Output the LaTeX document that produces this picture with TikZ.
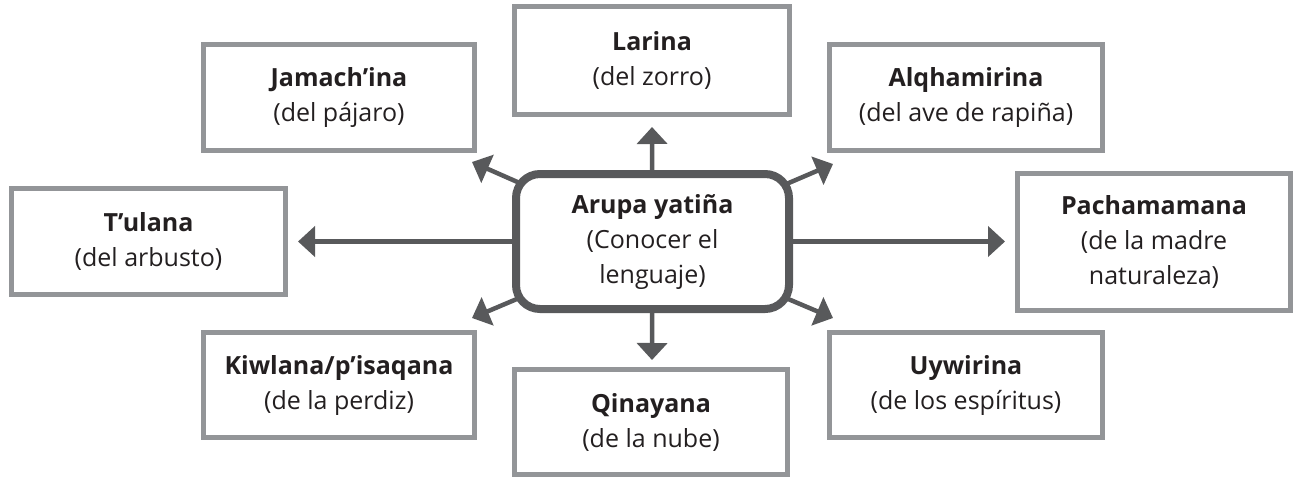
\documentclass[tikz,border=0pt]{standalone}
\usepackage{fontspec}
\setmainfont{Open Sans}
\usetikzlibrary{arrows.meta,backgrounds}
\definecolor{boxgray}{HTML}{939598}
\definecolor{hubgray}{HTML}{58595B}
\definecolor{txt}{HTML}{231F20}
\begin{document}
\begin{tikzpicture}[x=1pt,y=-1pt,
  leaf/.style={draw=boxgray, line width=5pt, fill=white, align=center,
    font=\fontsize{25}{35}\selectfont, text=txt, inner sep=0pt},
  hub/.style={draw=hubgray, line width=8pt, rounded corners=24pt, fill=white, align=center,
    font=\fontsize{25}{35}\selectfont, text=txt, inner sep=0pt},
  arr/.style={draw=hubgray, line width=4.5pt, -{Triangle[width=30pt,length=17pt]}}]
\useasboundingbox (0,0) rectangle (1295,480);
\node[leaf, minimum width=275pt, minimum height=108pt] (L) at (652,60.5) {\textbf{Larina}\\(del zorro)};
\node[leaf, minimum width=271pt, minimum height=106pt] (J) at (339,97.5) {\textbf{Jamach’ina}\\(del pájaro)};
\node[leaf, minimum width=273pt, minimum height=106pt] (A) at (966,97.5) {\textbf{Alqhamirina}\\(del ave de rapiña)};
\node[leaf, minimum width=274pt, minimum height=106pt] (T) at (148.5,241.5) {\textbf{T’ulana}\\(del arbusto)};
\node[leaf, minimum width=273pt, minimum height=137pt] (P) at (1154,242) {\textbf{Pachamamana}\\(de la madre\\naturaleza)};
\node[leaf, minimum width=271pt, minimum height=105pt] (K) at (339,385) {\textbf{Kiwlana/p’isaqana}\\(de la perdiz)};
\node[leaf, minimum width=273pt, minimum height=105pt] (Q) at (651,422) {\textbf{Qinayana}\\(de la nube)};
\node[leaf, minimum width=273pt, minimum height=105pt] (U) at (966,385) {\textbf{Uywirina}\\(de los espíritus)};
\node[hub, minimum width=273pt, minimum height=135pt] (C) at (652.5,241.5) {\textbf{Arupa yatiña}\\(Conocer el\\lenguaje)};
\coordinate (tL) at (652,127);
\coordinate (tQ) at (652,360);
\coordinate (tT) at (298,241.5);
\coordinate (tP) at (1005,241.5);
\coordinate (tJ) at (472,162);
\coordinate (tA) at (833,164);
\coordinate (tK) at (472,318);
\coordinate (tU) at (833,318);
\begin{scope}[on background layer]
\foreach \t in {tL,tQ,tT,tP,tJ,tA,tK,tU} \draw[arr] (C.center) -- (\t);
\end{scope}
\end{tikzpicture}
\end{document}
